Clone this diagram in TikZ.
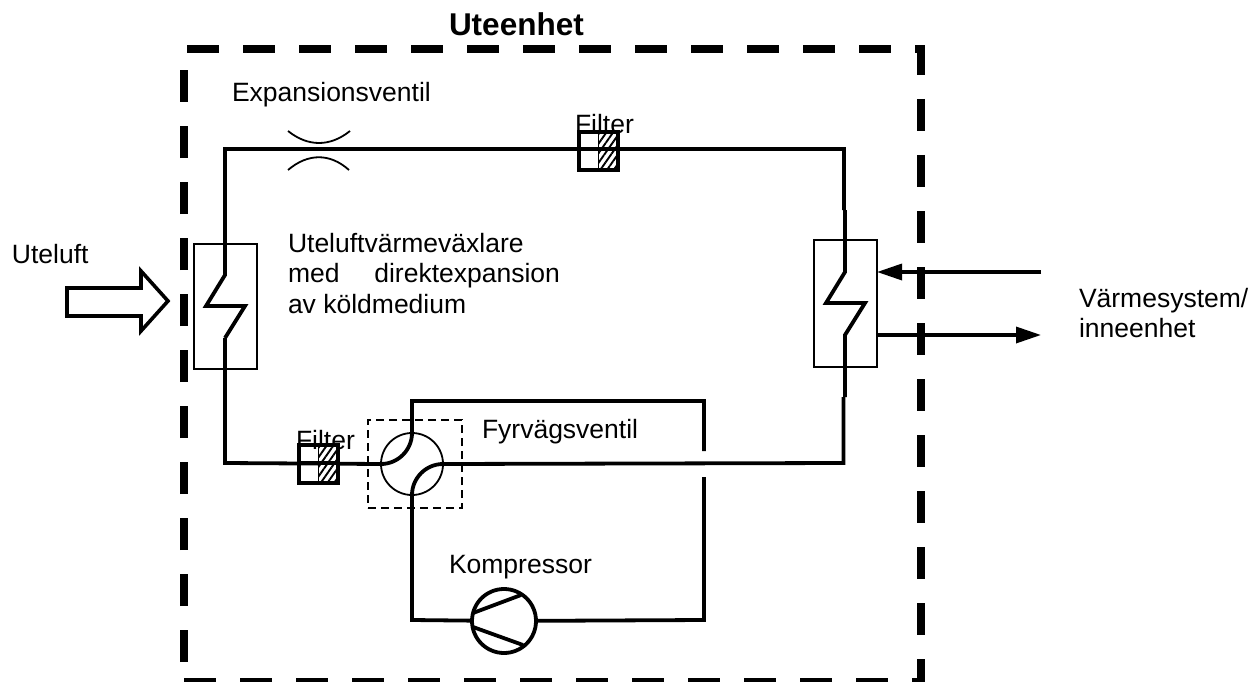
\documentclass[tikz,border=0pt]{standalone}
\usepackage{fontspec}
\setmainfont{Liberation Sans}
\usetikzlibrary{arrows.meta,patterns.meta}
\tikzset{
  x=1pt,y=-1pt,
  pipe/.style={line width=3.8pt,miter limit=10},
  outline/.style={line width=8pt,dash pattern=on 32pt off 24pt},
  hxbox/.style={draw,line width=1.3pt,minimum width=63pt,minimum height=125pt,inner sep=0,outer sep=0},
  valvebox/.style={draw,line width=1.3pt,dash pattern=on 8pt off 5pt,minimum width=94pt,minimum height=88pt,inner sep=0,outer sep=0},
  roundthing/.style={draw,circle,inner sep=0,outer sep=0},
  filterbox/.style={draw,line width=4pt,minimum width=39pt,minimum height=38pt,inner sep=0,outer sep=0},
  hatch/.style={pattern={Lines[angle=55,distance=5.5pt,line width=1.9pt]}},
  label/.style={inner sep=0,outer sep=0,anchor=base west,font=\fontsize{26.5}{30}\selectfont},
  flow/.style={line width=3.4pt,-{Triangle[length=25pt,width=16pt]}},
}
\begin{document}
\begin{tikzpicture}
\useasboundingbox (0,0) rectangle (1258,682);
% outer dashed enclosure
\coordinate (oa) at (187,49);
\coordinate (ob) at (921,49);
\coordinate (oc) at (921,682);
\coordinate (od) at (184,680);
\coordinate (oe) at (925,680);
\coordinate (of) at (184,662);
\coordinate (og) at (184,60);
\draw[outline] (oa) -- (ob) -- (oc);
\draw[outline,line width=4pt] (od) -- (oe);
\draw[outline] (of) -- (og);
% labels
\node[label,font=\fontsize{31.5}{34}\selectfont\bfseries] (t1) at (449,36) {Uteenhet};
\node[label] (t2) at (232,102) {Expansionsventil};
\node[label] (t3) at (575,134) {Filter};
\node[label] (t4) at (296,449) {Filter};
\node[label,anchor=north west,align=left,font=\fontsize{26.5}{30.5}\selectfont] (t5) at (288,233) {Uteluftvärmeväxlare\\\makebox[272pt][s]{med\hfill direktexpansion}\\av köldmedium};
\node[label] (t6) at (12,263) {Uteluft};
\node[label,anchor=north west,align=left,font=\fontsize{26.5}{30}\selectfont] (t7) at (1079,288) {Värmesystem/\\inneenhet};
\node[label] (t8) at (482,438) {Fyrvägsventil};
\node[label] (t9) at (449,573) {Kompressor};
% named components
\node[hxbox] (hxl) at (225.5,306.5) {};
\node[hxbox,minimum height=127pt] (hxr) at (845.5,303.5) {};
\node[valvebox] (vbox) at (415,464) {};
\node[roundthing,line width=1.8pt,minimum size=62pt] (valve) at (412,464) {};
\node[roundthing,line width=3.8pt,minimum size=64pt] (comp) at (504,621) {};
% pipe way points
\coordinate (a1) at (225,338);
\coordinate (a2) at (245,306);
\coordinate (a3) at (206,306);
\coordinate (a4) at (225,275);
\coordinate (a5) at (225,149);
\coordinate (a6) at (844,149);
\coordinate (a7) at (844,210);
\coordinate (a8) at (845,210);
\coordinate (a9) at (845,272);
\coordinate (a10) at (826,303);
\coordinate (a11) at (865,303);
\coordinate (a12) at (845,335);
\coordinate (a13) at (845,397);
\coordinate (a14) at (843.5,397);
\coordinate (a15) at (843.5,463);
\coordinate (b1) at (225,463);
\coordinate (b2) at (381,464);
\coordinate (b3) at (412,433);
\coordinate (b4) at (412,401);
\coordinate (b5) at (704,401);
\coordinate (b6) at (704,451);
\coordinate (b7) at (443,464);
\coordinate (b8) at (412,495);
\coordinate (b9) at (412,620);
\coordinate (c1) at (704,477);
\coordinate (c2) at (704,620);
% pipes
\draw[pipe] (a1) -- (a2) -- (a3) -- (a4) -- (a5) -- (a6) -- (a7);
\draw[pipe] (a8) -- (a9) -- (a10) -- (a11) -- (a12) -- (a13);
\draw[pipe] (a14) -- (a15) -- (b7);
\draw[pipe] (a1) -- (b1) -- (b2);
\draw[pipe] (b2) .. controls (398,464) and (412,450) .. (b3) -- (b4) -- (b5) -- (b6);
\draw[pipe] (b7) .. controls (426,464) and (412,478) .. (b8) -- (b9) -- (comp);
\draw[pipe] (comp) -- (c2) -- (c1);
% compressor vanes
\coordinate (d1) at (473,613);
\coordinate (d2) at (521,595);
\coordinate (d3) at (473,627);
\coordinate (d4) at (523,645);
\draw[pipe] (d1) -- (d2);
\draw[pipe] (d3) -- (d4);
% expansion valve
\coordinate (e1) at (288,131);
\coordinate (e2) at (350,131);
\coordinate (e3) at (288,170);
\coordinate (e4) at (349,170);
\draw[line width=1.8pt] (e1) .. controls (308,147) and (330,147) .. (e2);
\draw[line width=1.8pt] (e3) .. controls (308,153) and (330,153) .. (e4);
% filters
\fill[white] (598,132) rectangle (619,170);
\fill[white] (318,444) rectangle (338,483);
\draw[pipe] (580,149) -- (620,149);
\draw[pipe] (300,463) -- (340,463);
\fill[hatch] (598,132) rectangle (619,170);
\fill[hatch] (318,444) rectangle (338,483);
\node[filterbox] (f1) at (598.5,151) {};
\node[filterbox] (f2) at (318.5,463.5) {};
\draw[line width=1.6pt] (f1.north) -- (f1.south);
\draw[line width=1.6pt] (f2.north) -- (f2.south);
% external flows
\coordinate (g1) at (1041,272);
\coordinate (g2) at (1041,335);
\draw[flow] (g1) -- (hxr.east |- g1);
\draw[flow] (hxr.east |- g2) -- (g2);
% air inlet
\coordinate (h1) at (67,288);
\coordinate (h2) at (141,288);
\coordinate (h3) at (141,271);
\coordinate (h4) at (168,301);
\coordinate (h5) at (141,331);
\coordinate (h6) at (141,316);
\coordinate (h7) at (67,316);
\draw[line width=3.6pt,miter limit=10] (h1) -- (h2) -- (h3) -- (h4) -- (h5) -- (h6) -- (h7) -- cycle;
\end{tikzpicture}
\end{document}
